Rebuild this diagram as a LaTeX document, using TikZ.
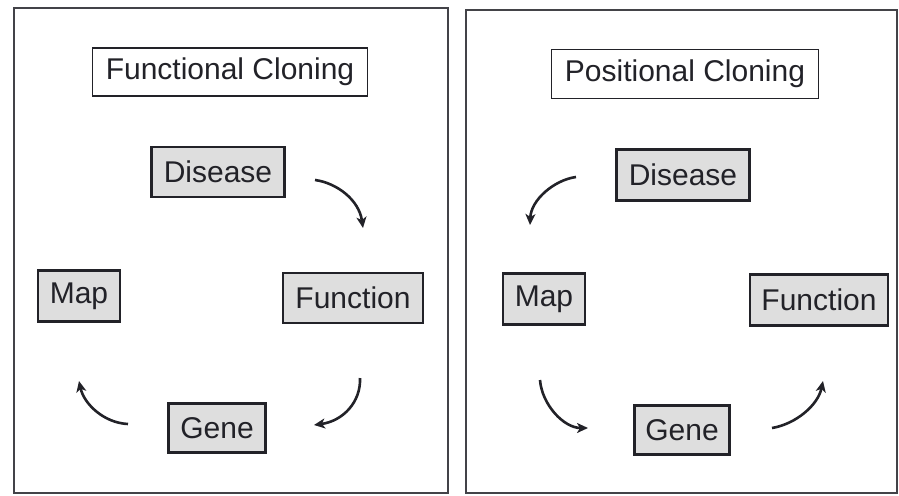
\documentclass[tikz,border=0pt]{standalone}
\usepackage{fontspec}
\setmainfont{Liberation Sans}
\usetikzlibrary{arrows.meta}
\definecolor{boxfill}{HTML}{DEDEDE}
\definecolor{ink}{HTML}{222228}
\tikzset{
  panel/.style={draw=ink!85, line width=1.4pt},
  titlebox/.style={draw=ink, line width=1.6pt, fill=white, inner sep=0pt, font=\fontsize{30}{32}\selectfont, text=ink},
  itembox/.style={draw=ink, line width=2.2pt, fill=boxfill, inner sep=0pt, font=\fontsize{30}{32}\selectfont, text=ink},
  cyc/.style={draw=ink, line width=2.6pt, -{Stealth[length=11pt,width=10pt,inset=3pt]}}
}
\begin{document}
\begin{tikzpicture}[x=1pt,y=-1pt]
\useasboundingbox (0,0) rectangle (899,495);
% panels
\draw[panel] (14,8) rectangle (448,493);
\draw[panel] (466,10) rectangle (897,493);
% left panel
\node[titlebox, minimum width=275pt, minimum height=48pt] (ftitle) at (230,72) {Functional Cloning};
\node[itembox, minimum width=133pt, minimum height=50pt] (fdis) at (218,172) {Disease};
\node[itembox, minimum width=82pt, minimum height=51pt] (fmap) at (79,296) {Map};
\node[itembox, minimum width=140pt, minimum height=50pt] (ffun) at (353,298) {Function};
\node[itembox, minimum width=97pt, minimum height=49pt] (fgene) at (217,428) {Gene};
\coordinate (fa1s) at (315,180);
\coordinate (fa1e) at (363,228);
\coordinate (fa2s) at (360,378);
\coordinate (fa2e) at (314,425);
\coordinate (fa3s) at (128,424);
\coordinate (fa3e) at (79,381);
\draw[cyc] (fa1s) .. controls (337,183) and (359,200) .. (fa1e);
\draw[cyc] (fa2s) .. controls (361,402) and (343,421) .. (fa2e);
\draw[cyc] (fa3s) .. controls (104,423) and (84,404) .. (fa3e);
% right panel
\node[titlebox, minimum width=267pt, minimum height=49pt] (ptitle) at (685,74) {Positional Cloning};
\node[itembox, minimum width=133pt, minimum height=51pt] (pdis) at (683,175) {Disease};
\node[itembox, minimum width=82pt, minimum height=51pt] (pmap) at (544,299) {Map};
\node[itembox, minimum width=138pt, minimum height=51pt] (pfun) at (819,300) {Function};
\node[itembox, minimum width=95pt, minimum height=49pt] (pgene) at (682,430) {Gene};
\coordinate (pa1s) at (576,177);
\coordinate (pa1e) at (530,225);
\coordinate (pa2s) at (540,380);
\coordinate (pa2e) at (588,428);
\coordinate (pa3s) at (772,428);
\coordinate (pa3e) at (823,381);
\draw[cyc] (pa1s) .. controls (554,180) and (531,200) .. (pa1e);
\draw[cyc] (pa2s) .. controls (542,405) and (564,428) .. (pa2e);
\draw[cyc] (pa3s) .. controls (796,424) and (818,405) .. (pa3e);
\end{tikzpicture}
\end{document}
